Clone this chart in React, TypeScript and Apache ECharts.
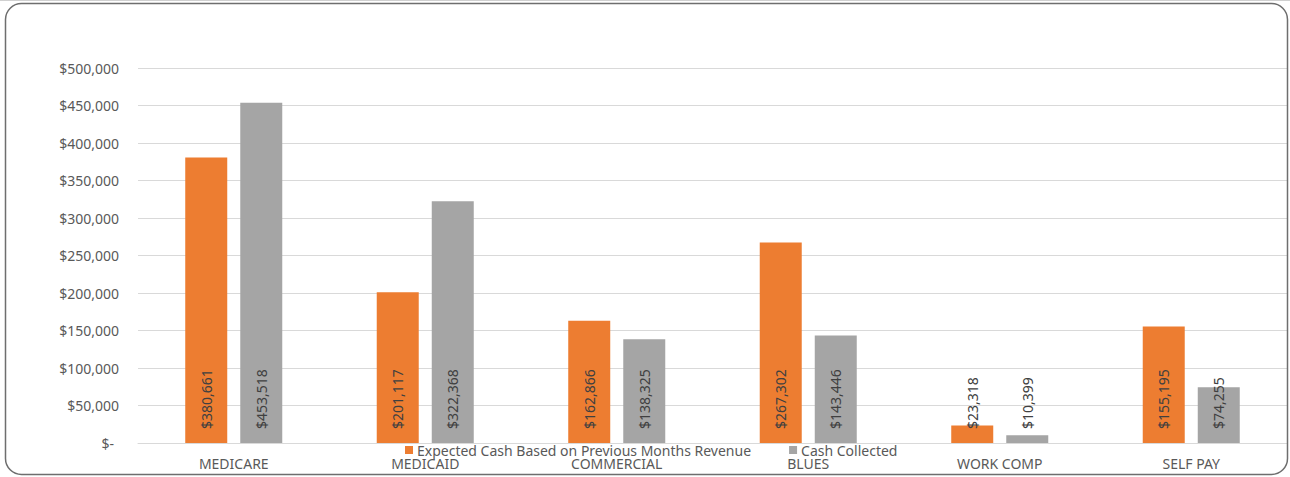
import React, { useEffect, useRef } from "react";
import * as echarts from "echarts";

const categories = ["MEDICARE", "MEDICAID", "COMMERCIAL", "BLUES", "WORK COMP", "SELF PAY"];
const expectedCash = [380661, 201117, 162866, 267302, 23318, 155195];
const cashCollected = [453518, 322368, 138325, 143446, 10399, 74255];
const seriesNames = ["Expected Cash Based on Previous Months Revenue", "Cash Collected"];
const yMax = 500000;
const yInterval = 50000;

const FONT = "'Noto Sans', 'Open Sans', sans-serif";

function money(v: number): string {
  return "$" + Math.round(v).toLocaleString("en-US");
}

export default function App() {
  const ref = useRef<HTMLDivElement>(null);
  useEffect(() => {
    document.body.style.margin = "0";
    const chart = echarts.init(ref.current!, null, { renderer: "svg" });
    const label = {
      show: true,
      position: "insideBottom",
      rotate: 90,
      align: "left",
      verticalAlign: "middle",
      distance: 14,
      color: "#404040",
      fontSize: 14,
      fontFamily: FONT,
      formatter: (p: any) => money(p.value),
    };
    chart.setOption({
      animation: false,
      backgroundColor: "#ffffff",
      textStyle: { fontFamily: FONT },
      graphic: [
        { type: "line", shape: { x1: 0, y1: 0.5, x2: 1290, y2: 0.5 }, style: { stroke: "#d0d0d0", lineWidth: 1 } },
        {
          type: "rect",
          shape: { x: 5.5, y: 3.5, width: 1282, height: 471, r: 16 },
          style: { fill: "none", stroke: "#6e6e6e", lineWidth: 1.5 },
          z: 100,
        },
      ],
      grid: { left: 138, right: 3, top: 68, bottom: 34, containLabel: false },
      legend: {
        left: 400,
        top: 438,
        itemWidth: 8,
        itemHeight: 8,
        itemGap: 38,
        icon: "rect",
        textStyle: { color: "#595959", fontSize: 14, fontFamily: FONT, padding: [0, 0, 0, -1] },
        data: seriesNames,
      },
      xAxis: {
        type: "category",
        data: categories,
        axisLine: { show: true, lineStyle: { color: "#d9d9d9", width: 1 } },
        axisTick: { show: false },
        axisLabel: { color: "#595959", fontSize: 14, fontFamily: FONT, margin: 13 },
      },
      yAxis: {
        type: "value",
        min: 0,
        max: yMax,
        interval: yInterval,
        axisLine: { show: false },
        axisTick: { show: false },
        splitLine: { lineStyle: { color: "#d9d9d9", width: 1 } },
        axisLabel: {
          color: "#595959",
          fontSize: 14,
          fontFamily: FONT,
          margin: 19,
          formatter: (v: number) => (v === 0 ? "{z|$-}" : money(v)),
          rich: { z: { color: "#595959", fontSize: 14, fontFamily: FONT, padding: [0, 5, 0, 0] } },
        },
      },
      series: [
        {
          name: seriesNames[0],
          type: "bar",
          data: expectedCash,
          barWidth: 42,
          barGap: "31%",
          itemStyle: { color: "#ED7D31" },
          label,
        },
        {
          name: seriesNames[1],
          type: "bar",
          data: cashCollected,
          barWidth: 42,
          barGap: "31%",
          itemStyle: { color: "#A5A5A5" },
          label,
        },
      ],
    });
    return () => chart.dispose();
  }, []);
  return <div ref={ref} style={{ width: 1290, height: 477 }} />;
}
